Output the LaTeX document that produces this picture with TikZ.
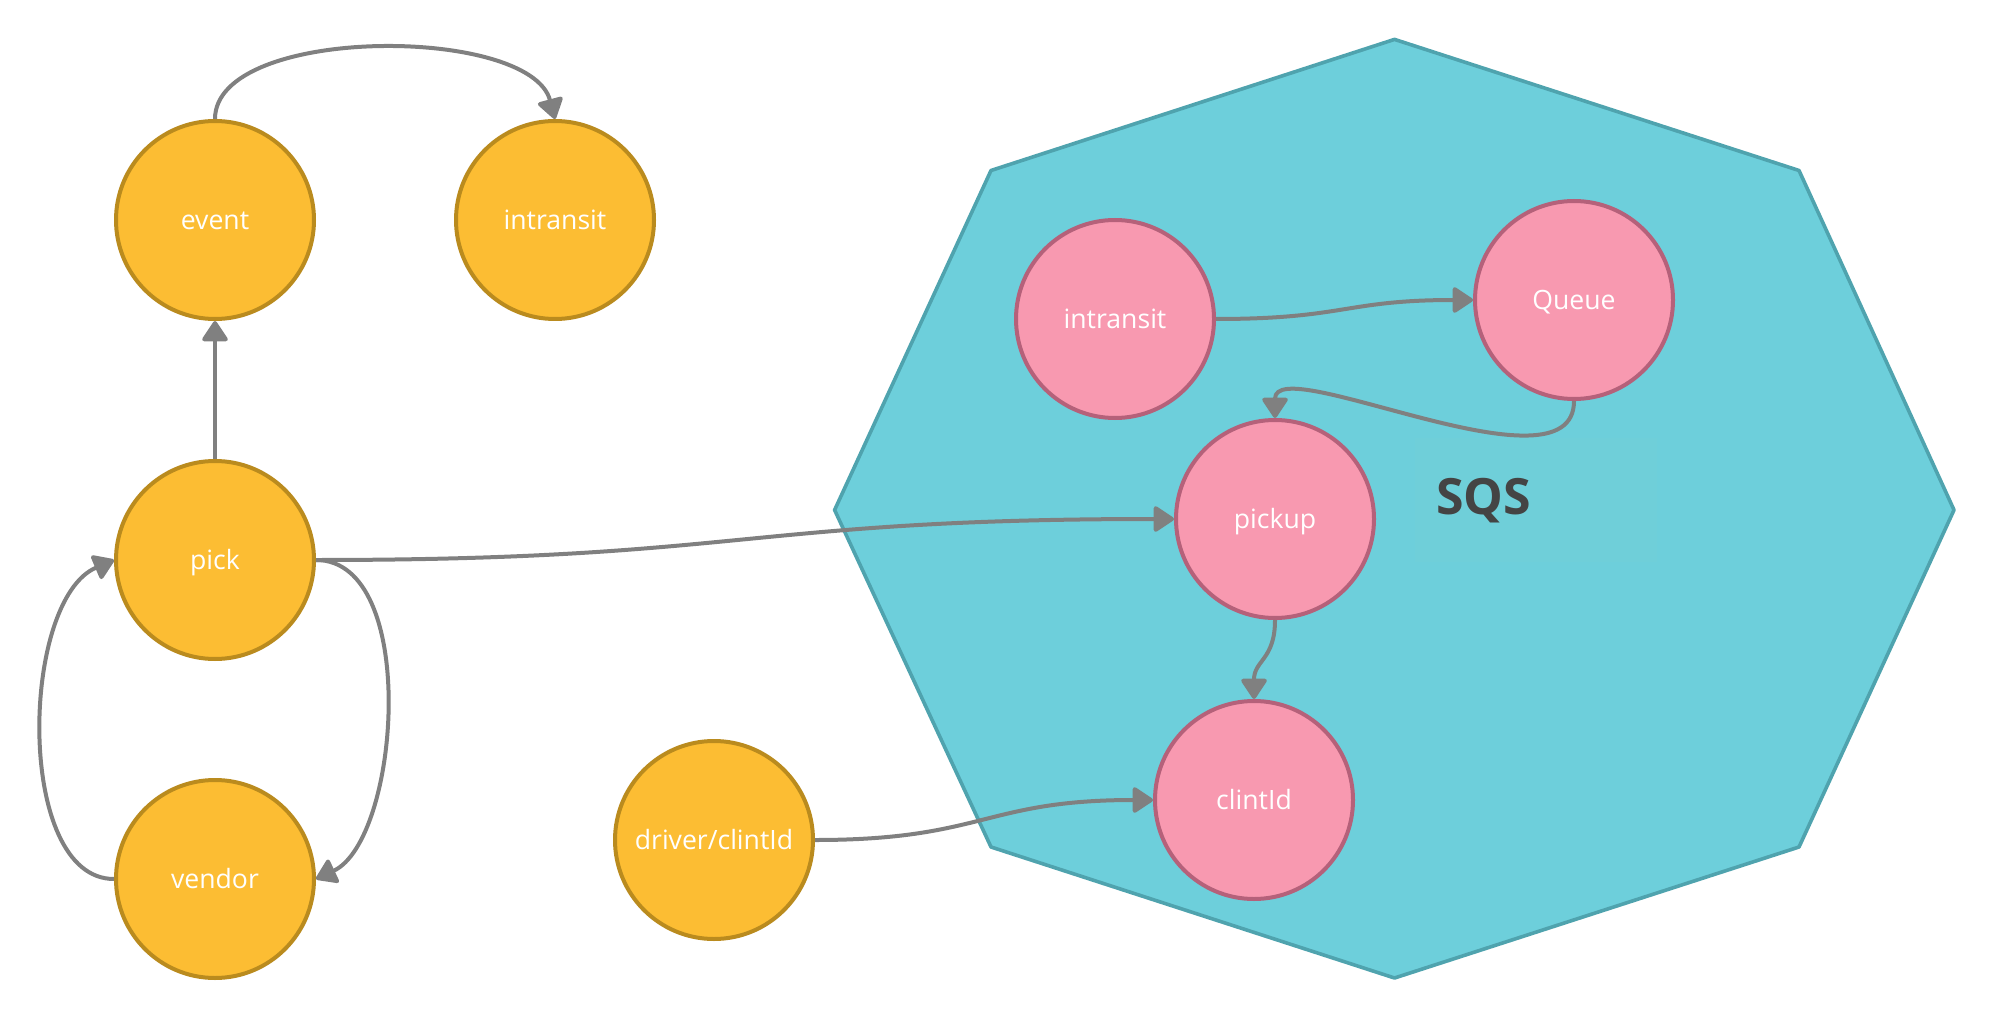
\documentclass[tikz,border=0pt]{standalone}
\usepackage{fontspec}
\setmainfont{Open Sans}
\usetikzlibrary{arrows.meta}
\definecolor{yfill}{HTML}{FCBD33}
\definecolor{yline}{HTML}{BA8B1E}
\definecolor{pfill}{HTML}{F899B0}
\definecolor{pline}{HTML}{B5617A}
\definecolor{cyanfill}{HTML}{6DCFDB}
\definecolor{cyanline}{HTML}{4FA3AE}
\definecolor{sqsbox}{HTML}{6FCFD9}
\definecolor{sqstext}{HTML}{444444}
\definecolor{edgec}{HTML}{808080}
\newcommand\nodetxt[1]{\raisebox{-4.6pt}[0pt][0pt]{#1}}
\begin{document}
\begin{tikzpicture}[x=0.5pt,y=-0.5pt,
  ynode/.style={circle,draw=yline,fill=yfill,line width=2pt,minimum size=99pt,inner sep=0pt,text=white,font=\fontsize{13.3}{16}\selectfont},
  pnode/.style={ynode,draw=pline,fill=pfill},
  conn/.style={draw=edgec,line width=2pt,-{Triangle[length=11pt,width=14pt,round]}}]
\useasboundingbox (0,0) rectangle (1995,1021);
\draw[fill=cyanfill,draw=cyanline,line width=1.8pt,line join=round] (1394.5,39.4) -- (1799,170.5) -- (1954,510) -- (1799,847) -- (1394.5,978) -- (991,847) -- (834.6,510) -- (991,170.5) -- cycle;
\node[fill=sqsbox,anchor=north west,minimum width=121pt,minimum height=62pt,text width=100pt,inner xsep=10.5pt,inner ysep=0pt,align=left,text=sqstext,font=\bfseries\fontsize{25}{30}\selectfont] (sqs) at (1415,438) {SQS};
\node[ynode] (event) at (215,220) {\nodetxt{event}};
\node[ynode] (intrY) at (555,220) {\nodetxt{intransit}};
\node[ynode] (pick) at (215,560) {\nodetxt{pick}};
\node[ynode] (vendor) at (215,879) {\nodetxt{vendor}};
\node[ynode] (driver) at (714,840) {\nodetxt{driver/clintId}};
\node[pnode] (intrP) at (1115,319) {\nodetxt{intransit}};
\node[pnode] (queue) at (1574,300) {\nodetxt{Queue}};
\node[pnode] (pickup) at (1275,519) {\nodetxt{pickup}};
\node[pnode] (clint) at (1254,800) {\nodetxt{clintId}};
\draw[conn] (event.north) .. controls (215,25) and (530,25) .. (intrY.north);
\draw[conn] (pick.north) -- (event.south);
\draw[conn] (pick.east) .. controls (745,560) and (745,519) .. (pickup.west);
\draw[conn] (pick.east) .. controls (420,560) and (400,840) .. (vendor.east);
\draw[conn] (vendor.west) .. controls (15,879) and (20,600) .. (pick.west);
\draw[conn] (intrP.east) .. controls (1345,319) and (1345,300) .. (queue.west);
\draw[conn] (queue.south) .. controls (1574,500) and (1275,350) .. (pickup.north);
\draw[conn] (pickup.south) .. controls (1275,660) and (1254,660) .. (clint.north);
\draw[conn] (driver.east) .. controls (984,840) and (984,800) .. (clint.west);
\end{tikzpicture}
\end{document}
